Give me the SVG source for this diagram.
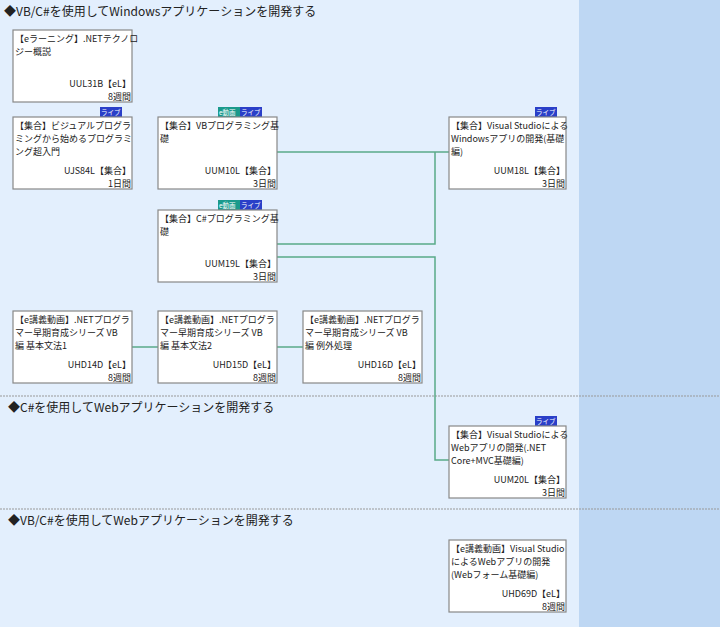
<svg xmlns="http://www.w3.org/2000/svg" width="720" height="627" viewBox="0 0 720 627">
<style>
text{font-family:"Noto Sans CJK JP","Noto Sans",sans-serif;font-size:9px;fill:#222}
.h{font-size:12px;font-family:"Noto Sans CJK JP",monospace}
.r{text-anchor:end}
.box{fill:#fff;stroke:#888;stroke-width:1.2}
.sep{stroke:#999;stroke-dasharray:2,1;stroke-width:1}
.c{fill:none;stroke:#5aaa88;stroke-width:1.5}
.bl{fill:#2a3fc8}.bt{fill:#1a9a8c}
.bx{font-size:6.5px;fill:#fff}
</style>
<rect width="720" height="627" fill="#e3effd"/>
<rect x="579" width="141" height="627" fill="#bed7f3"/>
<line class="sep" x1="0" y1="396" x2="720" y2="396"/>
<line class="sep" x1="0" y1="509" x2="720" y2="509"/>
<text class="h" x="4" y="16">◆VB/C#を使用してWindowsアプリケーションを開発する</text>
<text class="h" x="8" y="412">◆C#を使用してWebアプリケーションを開発する</text>
<text class="h" x="8" y="525">◆VB/C#を使用してWebアプリケーションを開発する</text>
<g id="connectors">
<polyline class="c" points="277,152 449,152"/>
<polyline class="c" points="277,244 435,244 435,152"/>
<polyline class="c" points="277,257 435,257 435,460 449,460"/>
<line class="c" x1="132" y1="347" x2="158" y2="347"/>
<line class="c" x1="277" y1="347" x2="303" y2="347"/>
</g>
<g id="n1"><rect class="box" x="13" y="30" width="119" height="72"/><text x="15" y="42">【eラーニング】.NETテクノロ</text><text x="15" y="55">ジー概説</text><text class="r" x="131" y="87">UUL31B【eL】</text><text class="r" x="131" y="100">8週間</text></g>
<g id="n2"><rect class="bl" x="100" y="107" width="22" height="10"/><text class="bx" x="101" y="115">ライブ</text><rect class="box" x="13" y="117" width="119" height="72"/><text x="15" y="129">【集合】ビジュアルプログラ</text><text x="15" y="142">ミングから始めるプログラミ</text><text x="15" y="155">ング超入門</text><text class="r" x="131" y="174">UJS84L【集合】</text><text class="r" x="131" y="187">1日間</text></g>
<g id="n3"><rect class="bt" x="218" y="107" width="22" height="10"/><text class="bx" x="219" y="115">e動画</text><rect class="bl" x="240" y="107" width="22" height="10"/><text class="bx" x="241" y="115">ライブ</text><rect class="box" x="158" y="117" width="119" height="72"/><text x="160" y="129">【集合】VBプログラミング基</text><text x="160" y="142">礎</text><text class="r" x="276" y="174">UUM10L【集合】</text><text class="r" x="276" y="187">3日間</text></g>
<g id="n4"><rect class="bt" x="218" y="200" width="22" height="10"/><text class="bx" x="219" y="208">e動画</text><rect class="bl" x="240" y="200" width="22" height="10"/><text class="bx" x="241" y="208">ライブ</text><rect class="box" x="158" y="210" width="119" height="72"/><text x="160" y="222">【集合】C#プログラミング基</text><text x="160" y="235">礎</text><text class="r" x="276" y="267">UUM19L【集合】</text><text class="r" x="276" y="280">3日間</text></g>
<g id="n5"><rect class="bl" x="535" y="107" width="22" height="10"/><text class="bx" x="536" y="115">ライブ</text><rect class="box" x="449" y="117" width="117" height="72"/><text x="451" y="129">【集合】Visual Studioによる</text><text x="451" y="142">Windowsアプリの開発(基礎</text><text x="451" y="155">編)</text><text class="r" x="565" y="174">UUM18L【集合】</text><text class="r" x="565" y="187">3日間</text></g>
<g id="n6"><rect class="box" x="13" y="311" width="119" height="72"/><text x="15" y="323">【e講義動画】.NETプログラ</text><text x="15" y="336">マー早期育成シリーズ VB</text><text x="15" y="349">編 基本文法1</text><text class="r" x="131" y="368">UHD14D【eL】</text><text class="r" x="131" y="381">8週間</text></g>
<g id="n7"><rect class="box" x="158" y="311" width="119" height="72"/><text x="160" y="323">【e講義動画】.NETプログラ</text><text x="160" y="336">マー早期育成シリーズ VB</text><text x="160" y="349">編 基本文法2</text><text class="r" x="276" y="368">UHD15D【eL】</text><text class="r" x="276" y="381">8週間</text></g>
<g id="n8"><rect class="box" x="303" y="311" width="119" height="72"/><text x="305" y="323">【e講義動画】.NETプログラ</text><text x="305" y="336">マー早期育成シリーズ VB</text><text x="305" y="349">編 例外処理</text><text class="r" x="421" y="368">UHD16D【eL】</text><text class="r" x="421" y="381">8週間</text></g>
<g id="n9"><rect class="bl" x="535" y="416" width="22" height="10"/><text class="bx" x="536" y="424">ライブ</text><rect class="box" x="449" y="426" width="117" height="72"/><text x="451" y="438">【集合】Visual Studioによる</text><text x="451" y="451">Webアプリの開発(.NET</text><text x="451" y="464">Core+MVC基礎編)</text><text class="r" x="565" y="483">UUM20L【集合】</text><text class="r" x="565" y="496">3日間</text></g>
<g id="n10"><rect class="box" x="449" y="540" width="117" height="72"/><text x="451" y="552">【e講義動画】Visual Studio</text><text x="451" y="565">によるWebアプリの開発</text><text x="451" y="578">(Webフォーム基礎編)</text><text class="r" x="565" y="597">UHD69D【eL】</text><text class="r" x="565" y="610">8週間</text></g>
</svg>
